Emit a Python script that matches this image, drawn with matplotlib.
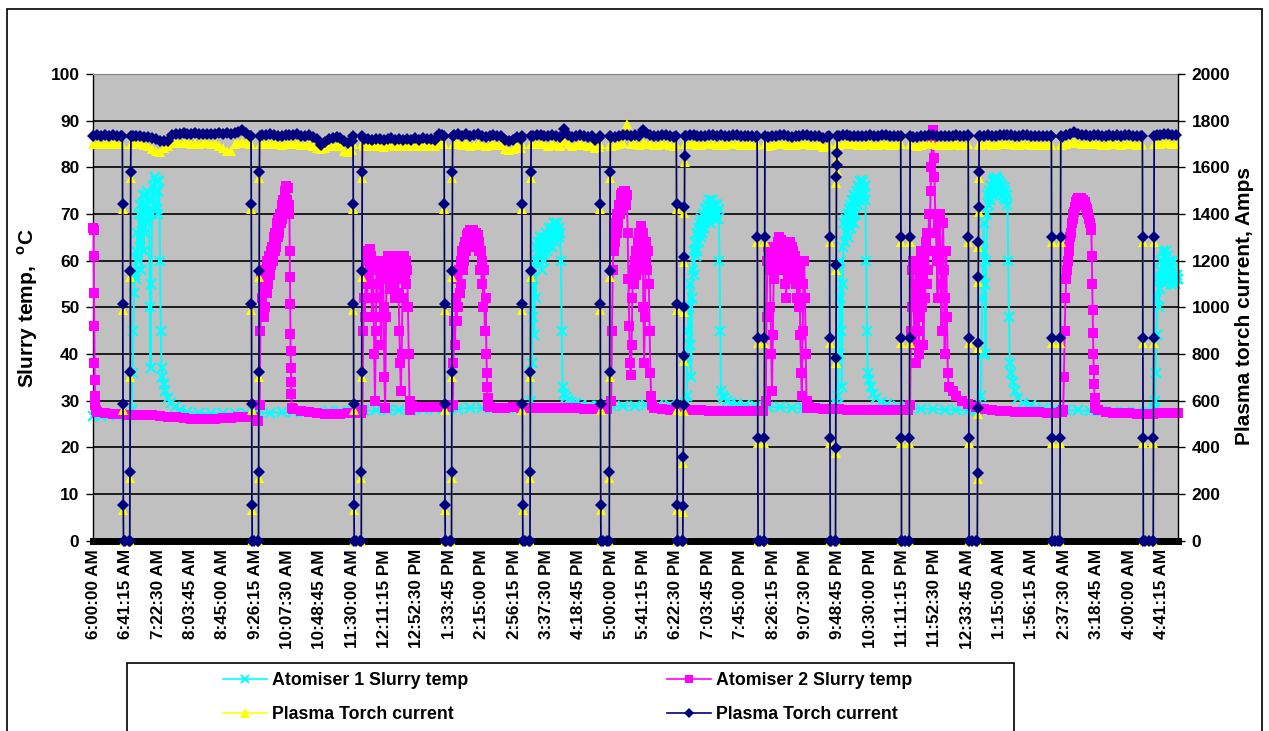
import numpy as np
import matplotlib
matplotlib.use("Agg")
import matplotlib.pyplot as plt
from matplotlib.lines import Line2D
from matplotlib.patches import Rectangle

plt.rcParams['font.family'] = ['Liberation Sans', 'DejaVu Sans']
plt.rcParams['font.weight'] = 'bold'
plt.rcParams['mathtext.fontset'] = 'custom'
plt.rcParams['mathtext.rm'] = 'Liberation Sans:bold'
plt.rcParams['mathtext.bf'] = 'Liberation Sans:bold'

# ---- time axis: minutes after 6:00:00 AM, one label every 41 min 15 s ----
LABEL_STEP = 41.25
X_END = 1382
time_labels = ['6:00:00 AM', '6:41:15 AM', '7:22:30 AM', '8:03:45 AM', '8:45:00 AM',
               '9:26:15 AM', '10:07:30 AM', '10:48:45 AM', '11:30:00 AM', '12:11:15 PM',
               '12:52:30 PM', '1:33:45 PM', '2:15:00 PM', '2:56:15 PM', '3:37:30 PM',
               '4:18:45 PM', '5:00:00 PM', '5:41:15 PM', '6:22:30 PM', '7:03:45 PM',
               '7:45:00 PM', '8:26:15 PM', '9:07:30 PM', '9:48:45 PM', '10:30:00 PM',
               '11:11:15 PM', '11:52:30 PM', '12:33:45 AM', '1:15:00 AM', '1:56:15 AM',
               '2:37:30 AM', '3:18:45 AM', '4:00:00 AM', '4:41:15 AM']

# ---- plasma torch current (A): readings every 5 min, 0 while torch is off ----
LEVEL_STEP = 5
navy_level = [1735, 1738, 1734, 1737, 1735, 1738, 1736, 1734, 0, 0,
              1735, 1733, 1736, 1731, 1728, 1725, 1720, 1712, 1715, 1714,
              1740, 1745, 1742, 1746, 1744, 1743, 1746, 1741, 1745, 1744,
              1742, 1745, 1747, 1744, 1746, 1743, 1748, 1752, 1760, 1748,
              1735, 0, 0, 1738, 1740, 1742, 1738, 1736, 1735, 1738,
              1740, 1737, 1741, 1736, 1734, 1738, 1730, 1722, 1695, 1710,
              1722, 1726, 1730, 1727, 1712, 1705, 1712, 0, 0, 1720,
              1722, 1718, 1723, 1720, 1716, 1722, 1725, 1719, 1722, 1718,
              1721, 1718, 1724, 1719, 1725, 1720, 1722, 1718, 1745, 1738,
              0, 0, 1738, 1742, 1736, 1744, 1733, 1738, 1741, 1736,
              1730, 1734, 1738, 1733, 1736, 1718, 1712, 1716, 1728, 1722,
              0, 0, 1735, 1737, 1740, 1736, 1733, 1738, 1735, 1732,
              1765, 1740, 1732, 1736, 1738, 1733, 1730, 1735, 1718, 1725,
              0, 0, 1728, 1732, 1735, 1738, 1740, 1736, 1738, 1734,
              1760, 1748, 1740, 1736, 1735, 1738, 1737, 1733, 1730, 0,
              0, 1735, 1737, 1740, 1736, 1733, 1735, 1738, 1737, 1734,
              1740, 1736, 1735, 1738, 1737, 1733, 1733, 1736, 1735, 1732,
              0, 0, 1730, 1734, 1735, 1737, 1737, 1734, 1732, 1735,
              1735, 1737, 1738, 1735, 1733, 1736, 1725, 1730, 0, 0,
              1735, 1737, 1738, 1735, 1736, 1734, 1733, 1736, 1737, 1735,
              1735, 1737, 1738, 1735, 1733, 1736, 0, 0, 0, 1732,
              1730, 1733, 1735, 1737, 1738, 1735, 1736, 1734, 1733, 1736,
              1737, 1734, 1735, 1737, 0, 0, 1733, 1736, 1738, 1735,
              1735, 1737, 1740, 1737, 1737, 1735, 1735, 1737, 1738, 1735,
              1736, 1734, 1733, 1736, 1735, 0, 0, 1732, 1738, 1742,
              1750, 1745, 1740, 1738, 1736, 1737, 1738, 1735, 1735, 1737,
              1736, 1738, 1735, 1737, 1738, 1736, 1733, 1735, 0, 0,
              0, 1738, 1740, 1745, 1742, 1738, 1737]
yellow_level = [1700, 1702, 1698, 1701, 1700, 1703, 1699, 1698, 0, 0,
                1700, 1698, 1701, 1696, 1690, 1680, 1668, 1665, 1682, 1690,
                1705, 1707, 1703, 1706, 1704, 1702, 1706, 1701, 1705, 1704,
                1702, 1705, 1690, 1682, 1668, 1672, 1700, 1705, 1710, 1704,
                1698, 0, 0, 1702, 1704, 1700, 1703, 1698, 1696, 1700,
                1702, 1698, 1703, 1697, 1695, 1700, 1690, 1685, 1680, 1685,
                1690, 1693, 1695, 1690, 1668, 1665, 1675, 0, 0, 1692,
                1695, 1690, 1694, 1692, 1688, 1694, 1696, 1690, 1694, 1690,
                1694, 1690, 1696, 1691, 1697, 1692, 1694, 1690, 1705, 1700,
                0, 0, 1700, 1703, 1697, 1704, 1690, 1695, 1700, 1697,
                1692, 1696, 1700, 1694, 1697, 1680, 1675, 1678, 1690, 1685,
                0, 0, 1698, 1700, 1702, 1698, 1692, 1700, 1697, 1693,
                1712, 1700, 1693, 1697, 1700, 1694, 1690, 1696, 1685, 1688,
                0, 0, 1692, 1695, 1700, 1703, 1785, 1702, 1700, 1696,
                1705, 1702, 1700, 1697, 1695, 1700, 1698, 1694, 1693, 0,
                0, 1698, 1700, 1702, 1697, 1695, 1698, 1700, 1698, 1696,
                1702, 1697, 1698, 1700, 1698, 1694, 1696, 1698, 1697, 1694,
                0, 0, 1692, 1696, 1698, 1700, 1699, 1696, 1694, 1697,
                1698, 1700, 1701, 1697, 1695, 1698, 1688, 1692, 0, 0,
                1697, 1700, 1701, 1698, 1698, 1696, 1695, 1698, 1700, 1697,
                1697, 1700, 1701, 1697, 1694, 1698, 0, 0, 0, 1694,
                1692, 1695, 1698, 1700, 1701, 1697, 1698, 1696, 1695, 1698,
                1700, 1696, 1697, 1700, 0, 0, 1694, 1698, 1700, 1697,
                1697, 1700, 1702, 1700, 1699, 1697, 1697, 1699, 1700, 1697,
                1698, 1696, 1694, 1698, 1697, 0, 0, 1694, 1700, 1703,
                1708, 1705, 1702, 1700, 1698, 1699, 1700, 1697, 1697, 1699,
                1698, 1700, 1697, 1699, 1700, 1698, 1694, 1697, 0, 0,
                0, 1700, 1702, 1706, 1704, 1700, 1699]

# torch trips: first sample of each shut-down and last sample of the restart (min)
outage_start = [37, 201, 331, 447, 546, 645.5, 743, 846, 938, 1029, 1115, 1221, 1337]
outage_end = [48, 212, 343, 458, 558, 659, 754, 856, 948, 1041, 1129, 1233, 1352]
down_profile = ['A', 'A', 'A', 'A', 'A', 'A', 'A', 'B', 'B', 'B', 'B', 'B', 'B']
up_profile = ['A', 'A', 'A', 'A', 'A', 'A', 'C', 'B', 'D', 'B', 'E', 'B', 'B']
RAMP_STEP = 0.3

navy_down = {'A': [1735, 1445, 1015, 585, 155, 0],
             'B': [1735, 1300, 870, 440, 0]}
navy_up = {'A': [0, 295, 725, 1155, 1580, 1735],
           'B': [0, 440, 870, 1300, 1735],
           'C': [0, 147, 360, 580, 792, 1002, 1216, 1428, 1650, 1735],
           'D': [0, 397, 785, 1180, 1560, 1610, 1660, 1735],
           'E': [0, 288, 567, 849, 1132, 1281, 1431, 1578, 1735]}
yellow_down = {'A': [1700, 1420, 990, 560, 130, 0],
               'B': [1700, 1278, 848, 418, 0]}
yellow_up = {'A': [0, 270, 700, 1130, 1555, 1700],
             'B': [0, 418, 848, 1278, 1700],
             'C': [0, 125, 335, 555, 770, 980, 1195, 1405, 1625, 1700],
             'D': [0, 375, 763, 1158, 1535, 1585, 1635, 1700],
             'E': [0, 265, 545, 827, 1110, 1258, 1410, 1555, 1700]}

# ---- Atomiser 1 slurry temp (degC): one reading per minute during each run ----
atom1_run_start = [48, 557, 755, 948, 1130, 1352]
atom1_runs = [
    [27, 28, 36, 45, 53, 57, 62, 56, 66, 60, 70, 63, 72, 58, 68, 74, 62, 72, 66, 74,
     70, 75, 68, 73, 50, 37, 55, 70, 76, 72, 78, 74, 77, 71, 75, 70, 77, 60, 45, 37, 35],
    [28.5, 30, 38, 48, 56, 44, 60, 52, 63, 60, 64, 62, 65, 61, 64, 58, 62, 65, 60, 63,
     66, 62, 65, 63, 67, 64, 66, 63, 67, 65, 68, 64, 67, 65, 68, 66, 67, 65, 66, 60, 45, 33],
    [29.5, 31, 38, 45, 50, 55, 42, 35, 52, 58, 62, 57, 64, 61, 66, 62, 67, 64, 68, 65,
     69, 66, 70, 67, 71, 68, 71, 69, 72, 70, 73, 68, 72, 70, 73, 71, 72, 69, 72, 70,
     72, 69, 71, 60, 45, 32],
    [29, 31, 40, 52, 60, 45, 33, 55, 63, 68, 64, 69, 66, 70, 65, 71, 68, 72, 67, 73,
     70, 74, 68, 73, 70, 75, 72, 76, 73, 77, 74, 77, 75, 77, 74, 76, 73, 60, 45, 36],
    [28.5, 31, 40, 52, 62, 68, 55, 40, 60, 70, 74, 72, 75, 73, 76, 74, 77, 75, 77.5, 76,
     78, 76, 77.5, 76, 77, 75, 76.5, 74.5, 76, 74, 75.5, 73.5, 75, 73, 74, 72, 60, 48, 38],
    [28.5, 30, 36, 44, 52, 56, 50, 58, 54, 60, 56, 62, 57, 61, 55, 62, 58, 61, 56, 60,
     57, 59, 55, 60, 56, 58, 55, 57, 56, 57, 56],
]
# readings between runs (cool-down and idle level): (minute, degC)
atom1_idle = [(0, 26.8), (10, 26.8), (20, 26.9), (30, 26.9), (40, 27.0), (46, 27.0),
              (90, 33.5), (92, 32.0), (95, 30.5), (99, 29.4), (104, 28.6), (111, 28.0),
              (120, 27.6), (135, 27.4), (150, 27.3), (165, 27.3), (180, 27.3), (195, 27.3),
              (210, 27.4), (225, 27.4), (240, 27.5), (255, 27.5), (270, 27.6), (285, 27.6),
              (300, 27.7), (315, 27.7), (330, 27.8), (345, 27.8), (360, 27.9), (375, 28.0),
              (390, 28.0), (405, 28.1), (420, 28.2), (435, 28.2), (450, 28.3), (465, 28.3),
              (480, 28.4), (495, 28.4), (510, 28.5), (525, 28.5), (540, 28.5), (552, 28.5),
              (600, 31.5), (602, 30.8), (605, 30.2), (609, 29.8), (615, 29.4), (622, 29.1),
              (632, 28.9), (645, 28.8), (660, 28.8), (675, 28.9), (690, 28.9), (705, 29.0),
              (720, 29.0), (735, 29.0), (750, 29.0),
              (802, 31.0), (804, 30.5), (808, 30.0), (813, 29.6), (820, 29.3), (830, 29.0),
              (845, 28.8), (860, 28.7), (875, 28.6), (890, 28.5), (905, 28.4), (920, 28.4),
              (935, 28.3), (945, 28.3),
              (989, 34.5), (991, 33.0), (994, 31.5), (998, 30.5), (1004, 29.7), (1012, 29.2),
              (1025, 28.8), (1040, 28.5), (1055, 28.3), (1070, 28.2), (1085, 28.1),
              (1100, 28.0), (1115, 28.0), (1127, 28.0),
              (1170, 36.0), (1172, 34.0), (1175, 32.0), (1179, 30.5), (1185, 29.5),
              (1195, 29.0), (1210, 28.5), (1225, 28.2), (1240, 28.0), (1255, 27.9),
              (1270, 27.8), (1285, 27.7), (1300, 27.6), (1315, 27.6), (1330, 27.5),
              (1345, 27.5), (1350, 27.5)]

# ---- Atomiser 2 slurry temp (degC) ----
atom2_run_start = [212, 343, 458, 660, 857, 1041, 1233]
atom2_runs = [
    [29, 45, 57, 52, 58, 48, 56, 50, 58, 53, 60, 55, 61, 57, 62, 59, 63, 60, 65, 62,
     66, 63, 68, 65, 69, 66, 70, 68, 72, 69, 73, 71, 75, 72, 76, 73, 75.5, 72, 70],
    [28, 45, 52, 48, 55, 60, 52, 62, 57, 62.5, 55, 61, 48, 60, 52, 40, 30, 45, 58, 52,
     60, 55, 58, 48, 42, 56, 60, 50, 35, 28.5, 48, 58, 61, 56, 60, 54, 61, 57, 61, 55,
     60, 52, 58, 61, 56, 60, 53, 45, 38, 32, 40, 52, 58, 61, 57, 60, 55, 58, 50, 40,
     30, 28],
    [29, 38, 47, 42, 52, 47, 56, 50, 58, 53, 60, 55, 62, 58, 63, 60, 64, 62, 65.5, 63,
     66, 64, 66.5, 63, 66, 64, 66.5, 63.5, 66, 64, 66, 63, 65.5, 62, 64, 58, 62, 55, 60, 50,
     58, 45, 52, 40],
    [30, 45, 58, 62, 66, 64, 68, 66, 70, 68, 72, 70, 74, 71, 74.5, 72, 75, 73, 75, 72,
     74, 66, 56, 46, 38, 35.5, 42, 52, 58, 55, 60, 57, 62, 58, 64, 60, 66, 62, 67.5, 63,
     66, 50, 38, 48, 60, 64, 58, 62, 55, 45, 36, 31, 29],
    [30, 48, 60, 63, 58, 62, 50, 40, 32, 44, 56, 62, 58, 63, 60, 64, 61, 65, 62, 64.5,
     61, 64, 58, 63, 55, 62, 52, 60, 56, 63, 59, 64, 60, 63, 58, 62, 57, 61, 55, 60,
     52, 58, 50, 56, 44, 36, 31, 45, 55, 60, 52, 40, 30, 28.5],
    [29, 45, 58, 50, 60, 42, 55, 38, 58, 45, 60, 40, 56, 48, 62, 50, 58, 42, 60, 52,
     64, 55, 66, 58, 70, 62, 75, 80, 86, 88, 82, 78, 70, 66, 60, 52, 68, 62, 70, 55,
     45, 62, 68, 58, 40, 52, 62, 48, 36, 33],
    [27.5, 27.5, 27.5, 28, 35, 45, 52, 56, 58, 60, 62, 63, 65, 66, 68, 69, 70, 70.5, 71.5, 72,
     72.5, 73, 73.5, 73, 73.5, 73, 73.5, 73, 73, 72.5, 72, 72.5, 71.5, 71, 70.5, 70, 69, 68, 67, 66.5],
]
atom2_idle = [(0, 67), (0.3, 66.5), (0.6, 61), (0.9, 53), (1.2, 46), (1.5, 38), (1.8, 34.5),
              (2.1, 31), (2.5, 29), (3, 28), (5, 27.6), (15, 27.3), (25, 27.2), (35, 27.1),
              (45, 27.0), (55, 27.0), (65, 27.0), (75, 27.0), (85, 26.8), (95, 26.6),
              (105, 26.4), (115, 26.2), (125, 26.0), (135, 26.0), (145, 26.0), (155, 26.1),
              (165, 26.2), (175, 26.3), (185, 26.4), (195, 26.5), (205, 26.4), (210, 25.7),
              (250.3, 62), (250.6, 56.4), (250.9, 50.7), (251.2, 44.3), (251.5, 40.7),
              (251.8, 37.1), (252.1, 33.9), (252.4, 31.4), (252.7, 28.5), (255, 28.2),
              (265, 27.8), (275, 27.5), (285, 27.3), (295, 27.2), (305, 27.2), (315, 27.2),
              (325, 27.3), (335, 27.3), (341, 27.3),
              (406, 28.8), (415, 28.7), (425, 28.6), (435, 28.6), (445, 28.7), (453, 28.7),
              (501.5, 36), (502, 33), (502.5, 30.5), (503, 28.8), (505, 28.6), (515, 28.5),
              (525, 28.5), (535, 28.6), (545, 28.5), (555, 28.5), (565, 28.4), (575, 28.4),
              (585, 28.5), (595, 28.5), (605, 28.4), (615, 28.4), (625, 28.3), (635, 28.3),
              (645, 28.2), (655, 28.2),
              (714, 28.5), (725, 28.2), (735, 28.0), (745, 28.0), (755, 27.9), (765, 27.9),
              (775, 27.9), (785, 27.8), (795, 27.8), (805, 27.8), (815, 27.8), (825, 27.8),
              (835, 27.8), (845, 27.8), (853, 27.8),
              (912, 28.6), (920, 28.4), (930, 28.3), (940, 28.2), (950, 28.2), (960, 28.1),
              (970, 28.1), (980, 28.0), (990, 28.0), (1000, 28.0), (1010, 27.9), (1020, 27.9),
              (1030, 27.9), (1038, 27.9),
              (1095, 32), (1100, 31), (1107, 30), (1115, 29.2), (1125, 28.6), (1135, 28.2),
              (1145, 28.0), (1155, 27.8), (1165, 27.7), (1175, 27.6), (1185, 27.5),
              (1195, 27.5), (1205, 27.5), (1215, 27.4), (1225, 27.4),
              (1272.5, 61), (1273, 55), (1273.5, 49.5), (1274, 44.5), (1274.5, 40),
              (1275, 36.5), (1275.5, 33.5), (1276, 30.5), (1276.5, 28.5), (1280, 28),
              (1290, 27.6), (1300, 27.4), (1310, 27.3), (1320, 27.3), (1330, 27.2),
              (1340, 27.2), (1350, 27.2), (1360, 27.3), (1370, 27.3), (1382, 27.4)]


def slurry_series(run_start, runs, idle):
    ts = [p[0] for p in idle]
    vs = [p[1] for p in idle]
    for s, vals in zip(run_start, runs):
        ts += [s + j for j in range(len(vals))]
        vs += vals
    order = np.argsort(ts, kind='stable')
    return np.array(ts, float)[order], np.array(vs, float)[order]


def torch_series(level, downs, ups):
    ts = list(np.arange(len(level)) * LEVEL_STEP)
    vs = list(level)
    for k, (s, e) in enumerate(zip(outage_start, outage_end)):
        d = downs[down_profile[k]]
        u = ups[up_profile[k]]
        ts += [s + RAMP_STEP * j for j in range(len(d))]
        vs += d
        ts += [e - RAMP_STEP * (len(u) - 1 - j) for j in range(len(u))]
        vs += u
    order = np.argsort(ts, kind='stable')
    return np.array(ts, float)[order], np.array(vs, float)[order]


a1_t, a1_v = slurry_series(atom1_run_start, atom1_runs, atom1_idle)
a2_t, a2_v = slurry_series(atom2_run_start, atom2_runs, atom2_idle)
ny_t, ny_v = torch_series(navy_level, navy_down, navy_up)
yl_t, yl_v = torch_series(yellow_level, yellow_down, yellow_up)

W, H = 1269, 731
fig = plt.figure(figsize=(W / 100, H / 100), dpi=100)
ax = fig.add_axes([93.3 / W, 1 - 540.7 / H, 1084.4 / W, 466.7 / H])
ax.set_facecolor('#C0C0C0')
ax2 = ax.twinx()

cyan, magenta, yellow, navy = '#00FFFF', '#FF00FF', '#FFFF00', '#000080'
st_cyan = dict(color=cyan, marker='x', ms=7, mew=1.6, lw=1.4)
st_mag = dict(color=magenta, marker='s', ms=7, mew=0, lw=1.4)
st_yel = dict(color=yellow, marker='^', ms=7.5, mew=0, lw=1.2)
st_navy = dict(color=navy, marker='D', ms=6, mew=0, lw=1.3)

ax.plot(a1_t, a1_v, zorder=2, clip_on=False, **st_cyan)
ax.plot(a2_t, a2_v, zorder=3, clip_on=False, **st_mag)
ax2.plot(yl_t, yl_v, zorder=2, clip_on=False, **st_yel)
ax2.plot(ny_t, ny_v, zorder=3, clip_on=False, **st_navy)

ax.set_xlim(0, X_END)
ax.set_ylim(0, 100)
ax2.set_ylim(0, 2000)
ax.set_yticks(np.arange(0, 101, 10))
ax2.set_yticks(np.arange(0, 2001, 200))
ax.set_xticks(np.arange(len(time_labels)) * LABEL_STEP)
ax.set_xticklabels(time_labels, rotation=90, fontsize=12.3, fontweight='bold')
ax.tick_params(axis='x', length=0, pad=6)
ax.tick_params(axis='y', direction='out', length=5, width=1, labelsize=12.5, pad=5)
ax2.tick_params(axis='y', direction='out', length=5, width=1, labelsize=12.5, pad=5)
for lab in ax.get_yticklabels() + ax2.get_yticklabels():
    lab.set_fontweight('bold')

ax.yaxis.grid(True, color='black', lw=1.2)
ax.set_axisbelow(True)

ax.spines['bottom'].set_linewidth(5)
ax.spines['bottom'].set_color('black')
ax.spines['top'].set_color('#808080')
ax.spines['right'].set_visible(False)
ax.spines['left'].set_linewidth(1)
for s in ['top', 'bottom', 'left']:
    ax2.spines[s].set_visible(False)
ax2.spines['right'].set_linewidth(1)

fig.text(28 / W, 1 - 308 / H, r'Slurry temp,  $^{\mathrm{o}}$C', rotation=90,
         ha='center', va='center', fontsize=15, fontweight='bold')
fig.text(1245 / W, 1 - 306 / H, 'Plasma torch current, Amps', rotation=90,
         ha='center', va='center', fontsize=15, fontweight='bold')

# chart border and legend box
fig.patches.append(Rectangle((7 / W, -0.05), (1262 - 7) / W, 1 - 9 / H + 0.05, fill=False,
                             ec='black', lw=1.2, transform=fig.transFigure, figure=fig))
fig.patches.append(Rectangle((127 / W, -0.05), (1014 - 127) / W, (731 - 663) / H + 0.05,
                             fill=False, ec='black', lw=1.2, transform=fig.transFigure, figure=fig))

leg_kw = dict(loc='upper left', frameon=False, fontsize=12.8, handlelength=2.45,
              handletextpad=0.33, labelspacing=0.95, borderpad=0, borderaxespad=0)
h1 = Line2D([], [], color=cyan, marker='x', ms=6, mew=1.4, lw=1.2)
h2 = Line2D([], [], color=magenta, marker='s', ms=6, mew=0, lw=1.2)
h3 = Line2D([], [], color=yellow, marker='^', ms=7, mew=0, lw=1.2)
h4 = Line2D([], [], color=navy, marker='D', ms=5.5, mew=0, lw=1.2)
fig.legend([h1, h3], ['Atomiser 1 Slurry temp', 'Plasma Torch current'],
           bbox_to_anchor=(223 / W, 1 - 672 / H), **leg_kw)
fig.legend([h2, h4], ['Atomiser 2 Slurry temp', 'Plasma Torch current'],
           bbox_to_anchor=(667 / W, 1 - 672 / H), **leg_kw)

fig.savefig('out.png', dpi=100)
